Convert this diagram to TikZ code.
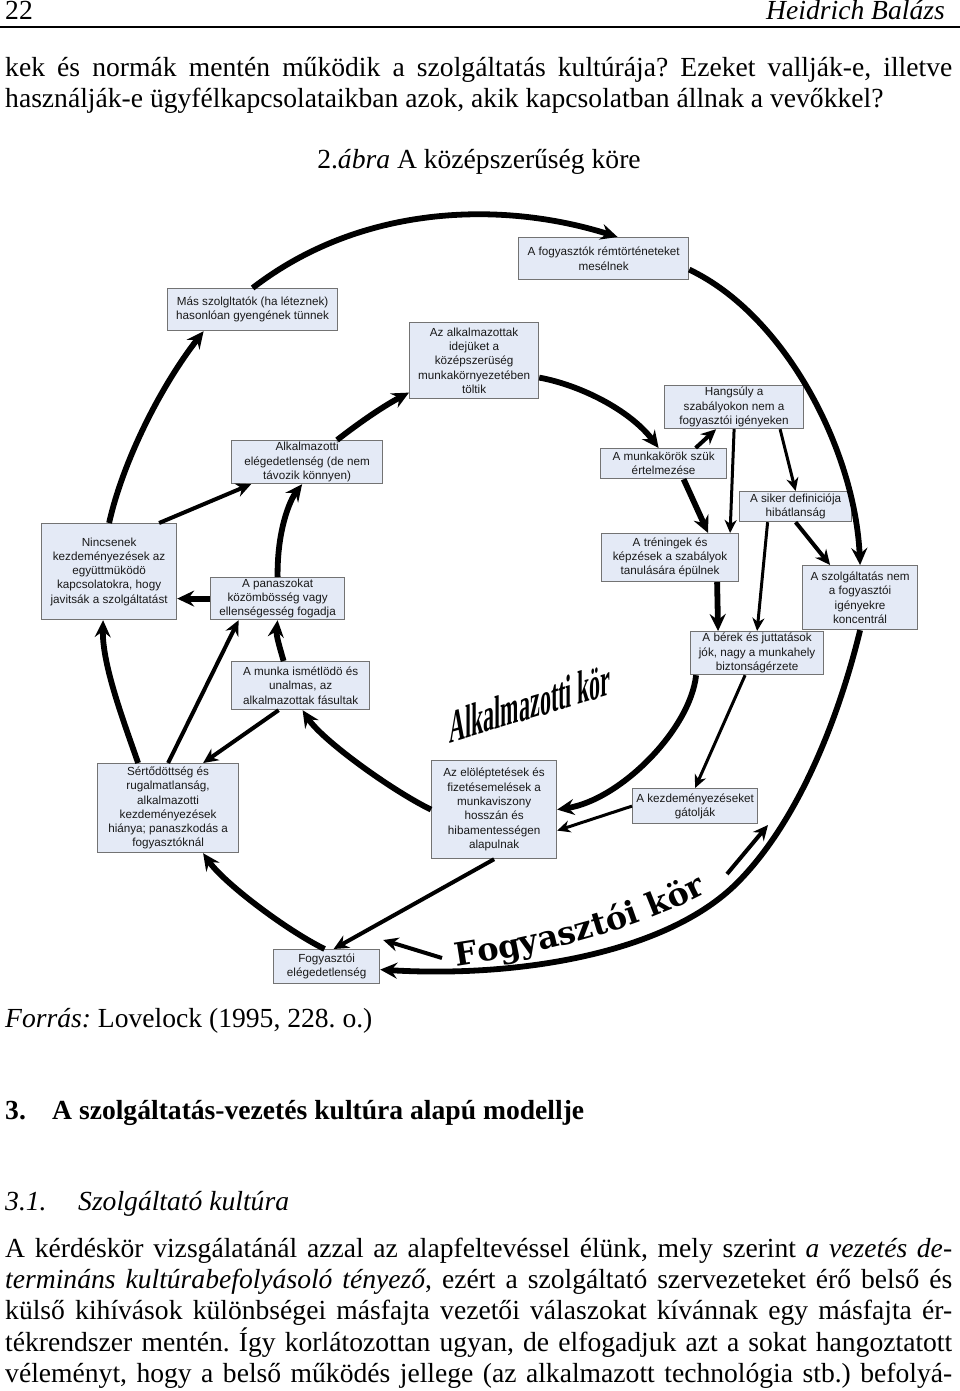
\documentclass[tikz,border=0pt]{standalone}
\usepackage{fontspec}
\setmainfont{Liberation Serif}
\newfontfamily\boxfam{Liberation Sans}
\newfontfamily\dejaserif{DejaVu Serif}
\usetikzlibrary{arrows.meta,decorations.text,calc}
\definecolor{boxfill}{RGB}{228,234,246}
\definecolor{boxline}{RGB}{115,115,115}
\definecolor{boxtext}{RGB}{25,25,25}
\newcommand\fogyfont{\dejaserif\bfseries\fontsize{32}{32}\selectfont}
\newcommand\bodyfont{\fontsize{27.6}{31}\selectfont}
\frenchspacing
\tikzset{
  box/.style={draw=boxline, line width=1.2pt, fill=boxfill, text=boxtext,
    font=\boxfam\fontsize{11.7}{14.3}\selectfont, align=center, inner sep=0pt, anchor=north west},
  body/.style={anchor=base west, inner sep=0pt, font=\bodyfont},
  aL/.style={line width=5.8pt, -{Stealth[length=17pt,width=16pt,inset=6pt]}},
  aM/.style={line width=4pt, -{Stealth[length=15pt,width=14pt,inset=5pt]}},
  aS/.style={line width=3pt, -{Stealth[length=13pt,width=12pt,inset=4pt]}},
}
\begin{document}
\begin{tikzpicture}[x=1pt,y=-1pt]
\useasboundingbox (0,0) rectangle (960,1391);
\fill[white] (0,0) rectangle (960,1391);

% header
\node[body] (pno) at (5,20) {22};
\node[body, anchor=base east] (auth) at (945,20) {\itshape Heidrich Balázs};
\draw[line width=1.6pt] (0,27) -- (960,27);

\node[body] (l1) at (5,77) {\makebox[947pt][s]{kek és normák mentén működik a szolgáltatás kultúrája? Ezeket vallják-e, illetve}};
\node[body] (l2) at (5,108) {használják-e ügyfélkapcsolataikban azok, akik kapcsolatban állnak a vevőkkel?};
\node[body, anchor=base] (cap) at (479,169) {2.\textit{ábra} A középszerűség köre};

% boxes
\node[box, minimum width=170pt, minimum height=42pt] (mas) at (167,288) {Más szolgltatók (ha léteznek)\\hasonlóan gyengének tünnek};
\node[box, minimum width=170pt, minimum height=42pt] (rem) at (518,237) {A fogyasztók rémtörténeteket\\mesélnek};
\node[box, minimum width=129pt, minimum height=76pt] (idej) at (409,322) {Az alkalmazottak\\idejüket a\\középszerüség\\munkakörnyezetében\\töltik};
\node[box, minimum width=139pt, minimum height=43pt] (hang) at (664,385) {Hangsúly a\\szabályokon nem a\\fogyasztói igényeken};
\node[box, minimum width=151pt, minimum height=43pt] (elag) at (231,440) {Alkalmazotti\\elégedetlenség (de nem\\távozik könnyen)};
\node[box, minimum width=126pt, minimum height=30pt] (munk) at (600,448) {A munkakörök szük\\értelmezése};
\node[box, minimum width=112pt, minimum height=30pt] (siker) at (739,491) {A siker definiciója\\hibátlanság};
\node[box, minimum width=135pt, minimum height=96pt] (ninc) at (41,523) {Nincsenek\\kezdeményezések az\\együttmüködö\\kapcsolatokra, hogy\\javitsák a szolgáltatást};
\node[box, minimum width=137pt, minimum height=48pt] (tren) at (601,533) {A tréningek és\\képzések a szabályok\\tanulására épülnek};
\node[box, minimum width=134pt, minimum height=42pt] (pan) at (210,577) {A panaszokat\\közömbösség vagy\\ellenségesség fogadja};
\node[box, minimum width=115pt, minimum height=64pt] (szolg) at (802,565) {A szolgáltatás nem\\a fogyasztói\\igényekre\\koncentrál};
\node[box, minimum width=133pt, minimum height=43pt] (berek) at (690,631) {A bérek és juttatások\\jók, nagy a munkahely\\biztonságérzete};
\node[box, minimum width=138pt, minimum height=48pt] (ism) at (231,661) {A munka ismétlödö és\\unalmas, az\\alkalmazottak fásultak};
\node[box, minimum width=141pt, minimum height=89pt] (sert) at (97,763) {Sértődöttség és\\rugalmatlanság,\\alkalmazotti\\kezdeményezések\\hiánya; panaszkodás a\\fogyasztóknál};
\node[box, minimum width=125pt, minimum height=98pt] (elol) at (431,760) {Az elöléptetések és\\fizetésemelések a\\munkaviszony\\hosszán és\\hibamentességen\\alapulnak};
\node[box, minimum width=125pt, minimum height=35pt] (kezd) at (632,788) {A kezdeményezéseket\\gátolják};
\node[box, minimum width=106pt, minimum height=34pt] (fe) at (273,949) {Fogyasztói\\elégedetlenség};

% outer (customer) cycle
\draw[aL] ([xshift=-2pt]fe.north) .. controls (286,930) and (224,883) .. ([xshift=35pt]sert.south);
\draw[aL] ([xshift=-30pt]sert.north) .. controls (125,725) and (102,665) .. ([xshift=-6pt]ninc.south);
\draw[aL] (ninc.north) .. controls (122,465) and (158,390) .. ([xshift=-49pt]mas.south);
\draw[aL] (mas.north) .. controls (360,205) and (500,200) .. ([xshift=14pt]rem.north);
\draw[aL] ([yshift=-11pt]rem.east) .. controls (785,315) and (855,450) .. (szolg.north);
\coordinate (bm) at (737,883);
\draw[aL] (szolg.south) .. controls (838,721) and (797,823) .. (bm) .. controls (667,953) and (520,978) .. ([yshift=-3pt]fe.east);
\coordinate (fkL) at (442,958);
\coordinate (fkR) at (727,874);
\coordinate (fkT) at (768,825);
\draw[aM] (fkL) -- ([xshift=3pt,yshift=9pt]fe.north east);
\draw[aM] (fkR) -- (fkT);
\path[decorate, decoration={text along path, text align=center, text={|\fogyfont|Fogyasztói kör}}] (446,968) .. controls (540,955) and (645,928) .. (716,888);

% inner (employee) cycle
\draw[aL] ([xshift=30pt]elag.north) .. controls (355,426) and (380,408) .. ([yshift=-32pt]idej.west);
\draw[aL] ([yshift=-17pt]idej.east) .. controls (580,385) and (630,410) .. ([xshift=-5pt]munk.north);
\draw[aM] ([xshift=32pt]munk.north) -- ([xshift=-18pt]hang.south);
\draw[aS] (hang.south) -- ([xshift=60pt]tren.north);
\draw[aS] ([xshift=46pt]hang.south) -- (siker.north);
\draw[aL] ([xshift=20pt]munk.south) -- ([xshift=38pt]tren.north);
\draw[aS] ([xshift=-28pt]siker.south) -- (berek.north);
\draw[aM] (siker.south) -- ([xshift=-30pt]szolg.north);
\draw[aL] ([xshift=47pt]tren.south) -- ([xshift=-39pt]berek.north);
\draw[aL] ([xshift=-61pt]berek.south) .. controls (690,730) and (620,800) .. (elol.east);
\draw[aS] ([xshift=-12pt]berek.south) -- (kezd.north);
\draw[aS] (kezd.west) -- ([yshift=-21pt]elol.east);
\draw[aL] (elol.west) .. controls (391,790) and (322,740) .. ([xshift=2pt]ism.south);
\draw[aM] (elol.south) -- ([xshift=7pt]fe.north);
\draw[aL] ([xshift=-17pt]ism.north) .. controls (279,645) and (276,635) .. (pan.south);
\draw[aL] (pan.west) -- ([yshift=-27pt]ninc.east);
\draw[aL] (pan.north) .. controls (277,530) and (290,500) .. ([xshift=-5pt]elag.south);
\draw[aM] ([xshift=50pt]ninc.north) -- ([xshift=-56pt]elag.south);
\draw[aM] ([xshift=-22pt]ism.south) -- ([xshift=35pt]sert.north);
\draw[aM] (sert.north) -- ([xshift=-39pt]pan.south);

\begin{scope}[shift={(530,703)}]
\node[inner sep=0pt, font=\bfseries\fontsize{47}{47}\selectfont, yslant=0.3, xscale=0.47] (akor) at (0,0) {Alkalmazotti kör};
\end{scope}

% text below
\node[body] (src) at (5,1027) {\textit{Forrás:} Lovelock (1995, 228. o.)};
\node[body, font=\bodyfont\bfseries] (h3) at (5,1119) {3.};
\node[body, font=\bodyfont\bfseries] (h3t) at (52,1119) {A szolgáltatás-vezetés kultúra alapú modellje};
\node[body, font=\bodyfont\itshape] (h31) at (5,1210) {3.1.};
\node[body, font=\bodyfont\itshape] (h31t) at (78,1210) {Szolgáltató kultúra};
\node[body] (p1) at (5,1257) {\makebox[947pt][s]{A kérdéskör vizsgálatánál azzal az alapfeltevéssel élünk, mely szerint \textit{a vezetés de-}}};
\node[body] (p2) at (5,1288) {\makebox[947pt][s]{\textit{termináns kultúrabefolyásoló tényező}, ezért a szolgáltató szervezeteket érő belső és}};
\node[body] (p3) at (5,1319) {\makebox[947pt][s]{külső kihívások különbségei másfajta vezetői válaszokat kívánnak egy másfajta ér-}};
\node[body] (p4) at (5,1351) {\makebox[947pt][s]{tékrendszer mentén. Így korlátozottan ugyan, de elfogadjuk azt a sokat hangoztatott}};
\node[body] (p5) at (5,1382) {\makebox[947pt][s]{véleményt, hogy a belső működés jellege (az alkalmazott technológia stb.) befolyá-}};
\end{tikzpicture}
\end{document}
